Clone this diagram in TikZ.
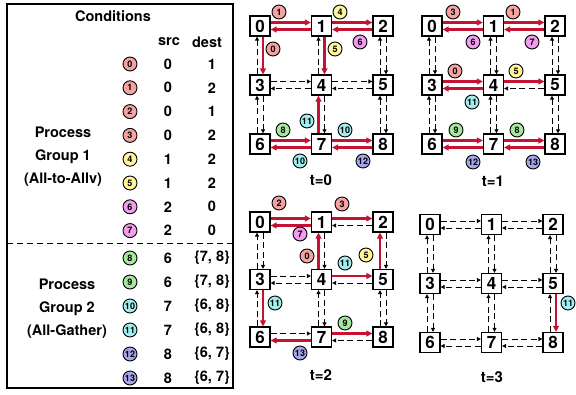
\documentclass[tikz,border=0pt]{standalone}
\usepackage{fontspec}
\setmainfont{TeX Gyre Heros}
\usetikzlibrary{arrows.meta}

\definecolor{linkred}{HTML}{C41230}
\definecolor{tagrose}{HTML}{F4A3A0}
\definecolor{taglemon}{HTML}{FFF59A}
\definecolor{tagorchid}{HTML}{F39BEF}
\definecolor{tagmint}{HTML}{A5E89D}
\definecolor{tagaqua}{HTML}{A0EEEE}
\definecolor{taglilac}{HTML}{A6A6EE}

\tikzset{
  cell/.style={draw, line width=1.3pt, minimum size=20pt, inner sep=0pt, fill=white,
    font=\bfseries\fontsize{17}{17}\selectfont},
  tag/.style={circle, draw, line width=0.9pt, minimum size=14pt, inner sep=0pt,
    font=\bfseries\fontsize{9}{9}\selectfont},
  rose/.style={fill=tagrose},
  lemon/.style={fill=taglemon},
  orchid/.style={fill=tagorchid},
  mint/.style={fill=tagmint},
  aqua/.style={fill=tagaqua},
  lilac/.style={fill=taglilac},
  txt/.style={font=\bfseries\fontsize{14.5}{16}\selectfont},
  grp/.style={align=center, font=\bfseries\fontsize{14.5}{23}\selectfont},
  flow/.style={-{Triangle[length=6pt,width=6pt]}, line width=2.2pt, linkred},
  idle/.style={-{Triangle[length=4pt,width=4pt]}, line width=0.9pt, dash pattern=on 6pt off 3.5pt},
}

\begin{document}
\begin{tikzpicture}[x=1pt, y=-1pt]

    \useasboundingbox (0,0) rectangle (576,394);

    % conditions table
    \draw[line width=1.5pt] (7,4) rectangle (233,388);
    \draw[line width=1pt, dash pattern=on 6pt off 4pt] (7,243) -- (233,243);
    \node[txt] (head) at (113,16) {Conditions};
    \node[txt] (hsrc) at (169,42) {src};
    \node[txt] (hdst) at (207,42) {dest};

    \foreach \n/\s/\d/\c in {0/0/1/rose, 1/0/2/rose, 2/0/1/rose, 3/0/2/rose,
                             4/1/2/lemon, 5/1/2/lemon, 6/2/0/orchid, 7/2/0/orchid} {
        \node[tag, \c] (cond\n) at (130, 64+23.8*\n) {\n};
        \node[txt] (src\n) at (168, 64+23.8*\n) {\s};
        \node[txt] (dst\n) at (212, 64+23.8*\n) {\d};
    }
    \foreach \n/\s/\d/\c in {8/6/{\{7, 8\}}/mint, 9/6/{\{7, 8\}}/mint, 10/7/{\{6, 8\}}/aqua,
                             11/7/{\{6, 8\}}/aqua, 12/8/{\{6, 7\}}/lilac, 13/8/{\{6, 7\}}/lilac} {
        \node[tag, \c] (cond\n) at (130, 258+24*\n-192) {\n};
        \node[txt] (src\n) at (168, 258+24*\n-192) {\s};
        \node[txt] (dst\n) at (212, 258+24*\n-192) {\d};
    }

    \node[grp] (grp1) at (63,157) {Process\\Group 1\\(All-to-Allv)};
    \node[grp] (grp2) at (67,309) {Process\\Group 2\\(All-Gather)};

    % the four 3x3 meshes
    \foreach \g/\ox/\oy/\dy in {A/260/26/59, B/432/26/59, C/260/222/57.5, D/430/224.5/59}
        \foreach \i in {0,...,8} {
            \pgfmathtruncatemacro{\cc}{mod(\i,3)}
            \pgfmathtruncatemacro{\rr}{div(\i,3)}
            \node[cell] (\g\i) at (\ox+61.5*\cc, \oy+\dy*\rr) {\i};
        }

    \node[txt, font=\bfseries\fontsize{15}{15}\selectfont] (tA) at (321,180) {t=0};
    \node[txt, font=\bfseries\fontsize{15}{15}\selectfont] (tB) at (493,181) {t=1};
    \node[txt, font=\bfseries\fontsize{15}{15}\selectfont] (tC) at (321,375) {t=2};
    \node[txt, font=\bfseries\fontsize{15}{15}\selectfont] (tD) at (492,377) {t=3};

    % t=0
    \foreach \u/\v/\s in {0/1/flow, 1/2/flow, 3/4/idle, 4/5/idle, 6/7/flow, 7/8/flow}
        \draw[\s] ([yshift=3.5pt]A\u.east) -- ([yshift=3.5pt]A\v.west);
    \foreach \u/\v/\s in {1/0/flow, 2/1/flow, 4/3/idle, 5/4/idle, 7/6/flow, 8/7/flow}
        \draw[\s] ([yshift=-3.5pt]A\u.west) -- ([yshift=-3.5pt]A\v.east);
    \foreach \u/\v/\s in {3/0/idle, 4/1/idle, 5/2/idle, 6/3/idle, 7/4/flow, 8/5/idle}
        \draw[\s] ([xshift=-3pt]A\u.north) -- ([xshift=-3pt]A\v.south);
    \foreach \u/\v/\s in {0/3/flow, 1/4/flow, 2/5/idle, 3/6/idle, 4/7/idle, 5/8/idle}
        \draw[\s] ([xshift=3pt]A\u.south) -- ([xshift=3pt]A\v.north);

    % t=1
    \foreach \u/\v/\s in {0/1/flow, 1/2/flow, 3/4/flow, 4/5/flow, 6/7/flow, 7/8/flow}
        \draw[\s] ([yshift=3.5pt]B\u.east) -- ([yshift=3.5pt]B\v.west);
    \foreach \u/\v/\s in {1/0/flow, 2/1/flow, 4/3/flow, 5/4/idle, 7/6/flow, 8/7/flow}
        \draw[\s] ([yshift=-3.5pt]B\u.west) -- ([yshift=-3.5pt]B\v.east);
    \foreach \u/\v in {3/0, 4/1, 5/2, 6/3, 7/4, 8/5}
        \draw[idle] ([xshift=-3pt]B\u.north) -- ([xshift=-3pt]B\v.south);
    \foreach \u/\v in {0/3, 1/4, 2/5, 3/6, 4/7, 5/8}
        \draw[idle] ([xshift=3pt]B\u.south) -- ([xshift=3pt]B\v.north);

    % t=2
    \foreach \u/\v/\s in {0/1/flow, 1/2/flow, 3/4/idle, 4/5/flow, 6/7/idle, 7/8/flow}
        \draw[\s] ([yshift=3.5pt]C\u.east) -- ([yshift=3.5pt]C\v.west);
    \foreach \u/\v/\s in {1/0/flow, 2/1/idle, 4/3/idle, 5/4/idle, 7/6/flow, 8/7/idle}
        \draw[\s] ([yshift=-3.5pt]C\u.west) -- ([yshift=-3.5pt]C\v.east);
    \foreach \u/\v/\s in {3/0/idle, 4/1/flow, 5/2/flow, 6/3/idle, 7/4/idle, 8/5/idle}
        \draw[\s] ([xshift=-3pt]C\u.north) -- ([xshift=-3pt]C\v.south);
    \foreach \u/\v/\s in {0/3/idle, 1/4/idle, 2/5/idle, 3/6/flow, 4/7/idle, 5/8/idle}
        \draw[\s] ([xshift=3pt]C\u.south) -- ([xshift=3pt]C\v.north);

    % t=3
    \foreach \u/\v in {0/1, 1/2, 3/4, 4/5, 6/7, 7/8}
        \draw[idle] ([yshift=3.5pt]D\u.east) -- ([yshift=3.5pt]D\v.west);
    \foreach \u/\v in {1/0, 2/1, 4/3, 5/4, 7/6, 8/7}
        \draw[idle] ([yshift=-3.5pt]D\u.west) -- ([yshift=-3.5pt]D\v.east);
    \foreach \u/\v in {3/0, 4/1, 5/2, 6/3, 7/4, 8/5}
        \draw[idle] ([xshift=-3pt]D\u.north) -- ([xshift=-3pt]D\v.south);
    \foreach \u/\v/\s in {0/3/idle, 1/4/idle, 2/5/idle, 3/6/idle, 4/7/idle, 5/8/flow}
        \draw[\s] ([xshift=3pt]D\u.south) -- ([xshift=3pt]D\v.north);

    % condition tags on the links
    \node[tag, rose]   (A-m1)  at (279,12)  {1};
    \node[tag, lemon]  (A-m2)  at (340,12)  {4};
    \node[tag, orchid] (A-m3)  at (360,42)  {6};
    \node[tag, rose]   (A-m4)  at (273,49)  {0};
    \node[tag, lemon]  (A-m5)  at (335,49)  {5};
    \node[tag, aqua]   (A-m6)  at (307,121) {11};
    \node[tag, mint]   (A-m7)  at (283,130) {8};
    \node[tag, aqua]   (A-m8)  at (300,161) {10};
    \node[tag, aqua]   (A-m9)  at (345,130) {10};
    \node[tag, lilac]  (A-m10) at (363,161) {12};

    \node[tag, rose]   (B-m1)  at (453,12)  {3};
    \node[tag, rose]   (B-m2)  at (513,12)  {1};
    \node[tag, orchid] (B-m3)  at (473,42)  {6};
    \node[tag, orchid] (B-m4)  at (532,42)  {7};
    \node[tag, rose]   (B-m5)  at (455,71)  {0};
    \node[tag, lemon]  (B-m6)  at (516,71)  {5};
    \node[tag, aqua]   (B-m7)  at (472,102) {11};
    \node[tag, mint]   (B-m8)  at (456,130) {9};
    \node[tag, mint]   (B-m9)  at (517,130) {8};
    \node[tag, lilac]  (B-m10) at (473,162) {12};
    \node[tag, lilac]  (B-m11) at (533,162) {13};

    \node[tag, rose]   (C-m1)  at (279,203) {2};
    \node[tag, rose]   (C-m2)  at (342,204) {3};
    \node[tag, orchid] (C-m3)  at (300,234) {7};
    \node[tag, rose]   (C-m4)  at (307,256) {0};
    \node[tag, lemon]  (C-m5)  at (366,255) {5};
    \node[tag, aqua]   (C-m6)  at (345,263) {11};
    \node[tag, aqua]   (C-m7)  at (275,303) {11};
    \node[tag, mint]   (C-m8)  at (345,323) {9};
    \node[tag, lilac]  (C-m9)  at (300,353) {13};

    \node[tag, aqua]   (D-m1)  at (568,303) {11};

\end{tikzpicture}
\end{document}
